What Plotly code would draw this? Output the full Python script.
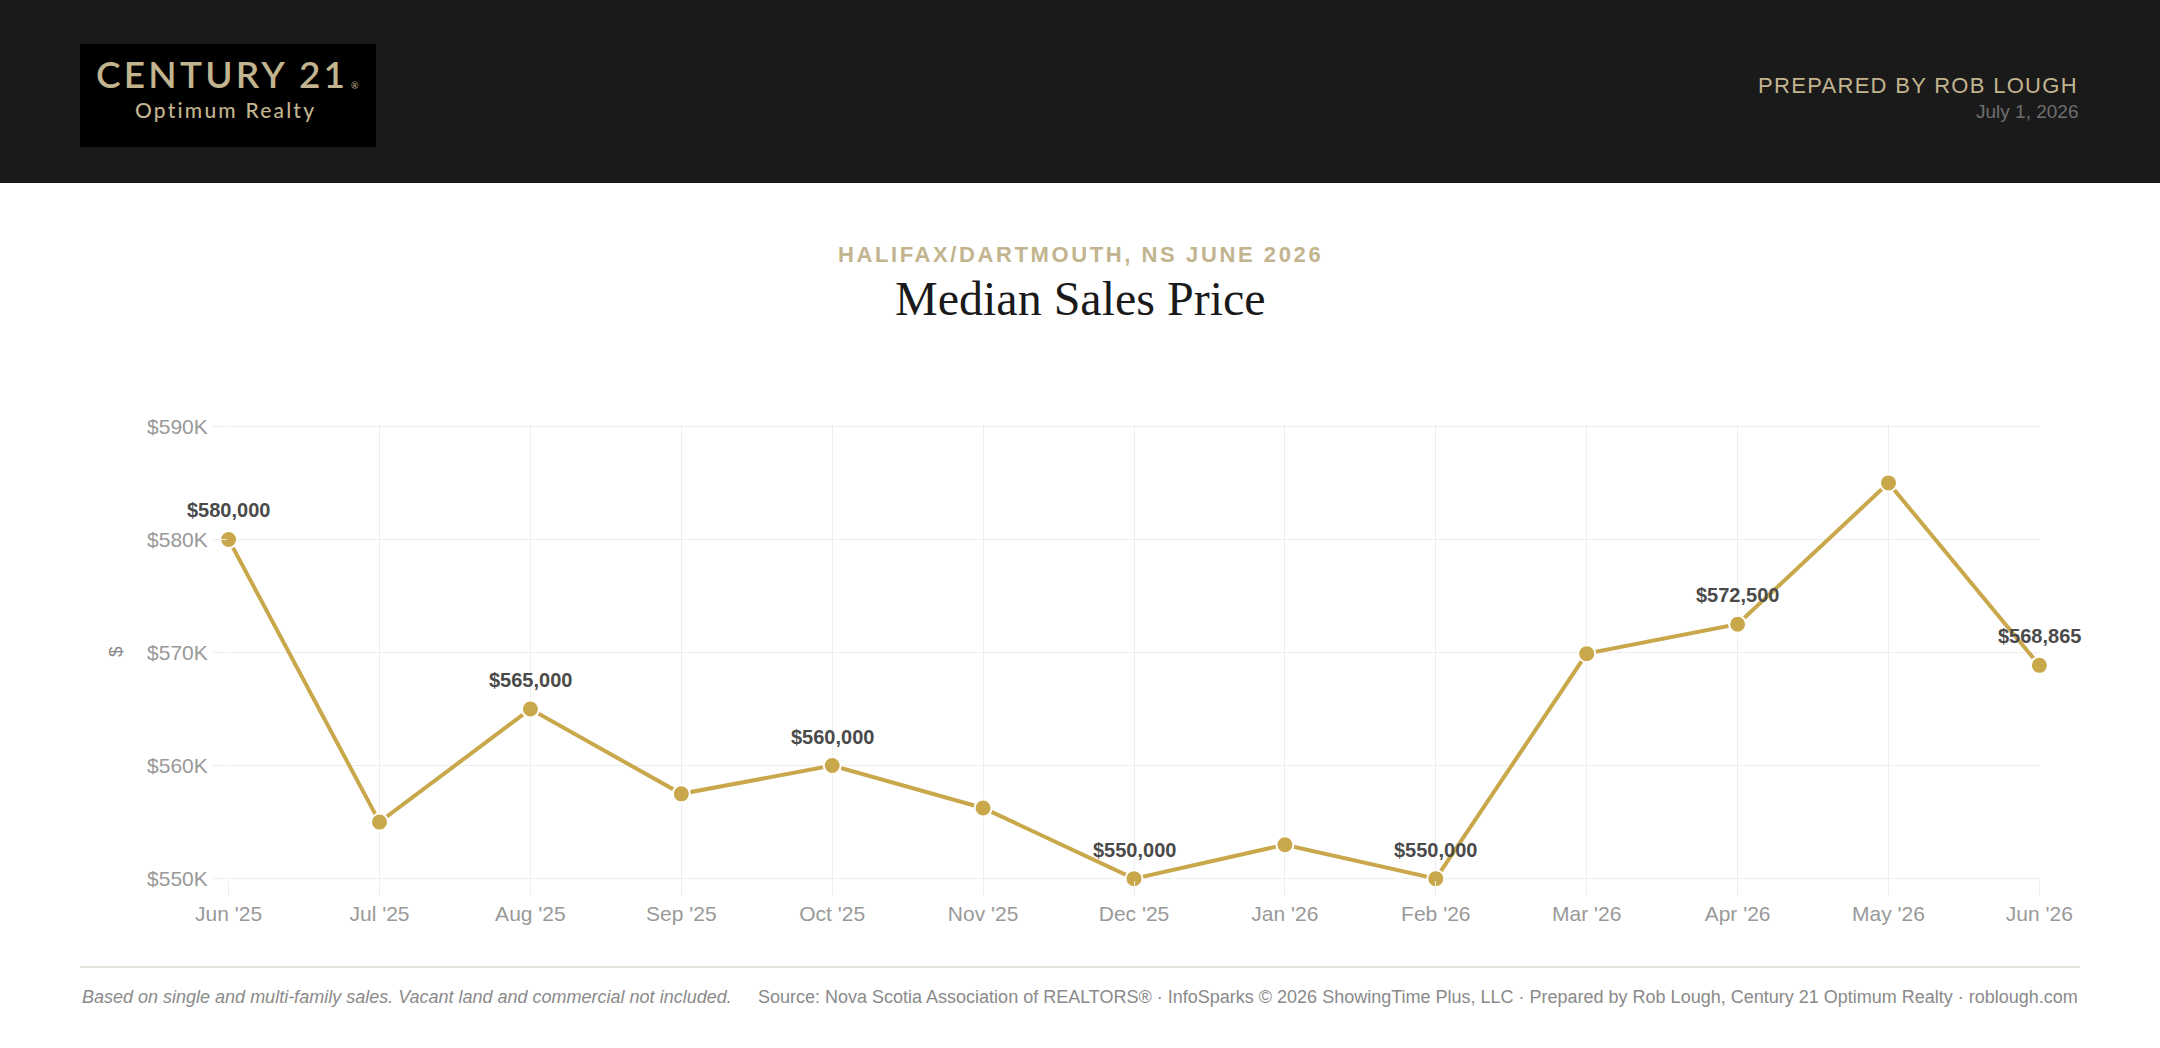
import plotly.graph_objects as go

# ---- data ----
months = ["Jun '25", "Jul '25", "Aug '25", "Sep '25", "Oct '25", "Nov '25", "Dec '25",
          "Jan '26", "Feb '26", "Mar '26", "Apr '26", "May '26", "Jun '26"]
median_price = [580000, 555000, 565000, 557500, 560000, 556250, 550000,
                553000, 550000, 569900, 572500, 585000, 568865]
labeled_months = ["Jun '25", "Aug '25", "Oct '25", "Dec '25", "Feb '26", "Apr '26", "Jun '26"]
y_ticks = [550000, 560000, 570000, 580000, 590000]
y_tick_labels = ["$550K", "$560K", "$570K", "$580K", "$590K"]

W, H = 2160, 1048
def px(x):
    return x / W
def py(y):
    return 1 - y / H
def spaced(text, sp):
    return f'<span style="letter-spacing:{sp}px">{text}</span>'

GOLD = "#C9A84C"
TAN = "#C2B48E"
GRID = "#EEEEEE"
SANS = "Liberation Sans, Arial, sans-serif"

fig = go.Figure()
fig.add_trace(go.Scatter(
    x=months, y=median_price, mode="lines+markers",
    line=dict(color=GOLD, width=4),
    marker=dict(color=GOLD, size=17, line=dict(color="white", width=2)),
    cliponaxis=False, hoverinfo="skip", showlegend=False,
))

annotations = []
for m, v in zip(months, median_price):
    if m in labeled_months:
        annotations.append(dict(
            x=m, y=v, xref="x", yref="y", text=f"<b>${v:,.0f}</b>", showarrow=False,
            yshift=29, font=dict(family=SANS, size=20, color="#4A4A4A"),
        ))

# header texts
annotations += [
    dict(x=px(222), y=py(73), xref="paper", yref="paper", text=spaced("CENTURY 21", 3.2), showarrow=False,
         font=dict(family="Lato", size=37, color=TAN, weight=600), xanchor="center", yanchor="middle"),
    dict(x=px(349), y=py(85), xref="paper", yref="paper", text="®", showarrow=False,
         font=dict(family="Lato", size=9, color=TAN), xanchor="left", yanchor="middle"),
    dict(x=px(225), y=py(110), xref="paper", yref="paper", text=spaced("Optimum Realty", 2.2), showarrow=False,
         font=dict(family="Lato", size=21, color=TAN, weight=500), xanchor="center", yanchor="middle"),
    dict(x=px(2080), y=py(85), xref="paper", yref="paper", text=spaced("PREPARED BY ROB LOUGH", 1.3),
         showarrow=False, font=dict(family=SANS, size=22, color=TAN), xanchor="right", yanchor="middle"),
    dict(x=px(2080), y=py(111), xref="paper", yref="paper", text="July 1, 2026", showarrow=False,
         font=dict(family=SANS, size=19, color="#6E6E6E"), xanchor="right", yanchor="middle"),
    # titles
    dict(x=0.5, y=py(254), xref="paper", yref="paper", text="<b>" + spaced("HALIFAX/DARTMOUTH, NS JUNE 2026", 2.6) + "</b>",
         showarrow=False, font=dict(family=SANS, size=22, color=TAN), xanchor="center", yanchor="middle"),
    dict(x=0.5, y=py(298), xref="paper", yref="paper", text="Median Sales Price",
         showarrow=False, font=dict(family="Liberation Serif, Georgia, serif", size=48, color="#1A1A1A"),
         xanchor="center", yanchor="middle"),
    # y-axis title
    dict(x=px(115), y=py(652), xref="paper", yref="paper", text="$", textangle=-90,
         showarrow=False, font=dict(family=SANS, size=19, color="#888888"),
         xanchor="center", yanchor="middle"),
    # footer
    dict(x=px(80), y=py(997), xref="paper", yref="paper",
         text="<i>Based on single and multi-family sales. Vacant land and commercial not included.</i>",
         showarrow=False, font=dict(family=SANS, size=18, color="#8A8A8A"),
         xanchor="left", yanchor="middle"),
    dict(x=px(2080), y=py(997), xref="paper", yref="paper",
         text="Source: Nova Scotia Association of REALTORS® · InfoSparks © 2026 ShowingTime Plus, LLC · "
              "Prepared by Rob Lough, Century 21 Optimum Realty · roblough.com",
         showarrow=False, font=dict(family=SANS, size=18, color="#8A8A8A"),
         xanchor="right", yanchor="middle"),
]

shapes = [
    dict(type="rect", xref="paper", yref="paper", x0=0, x1=1, y0=py(183), y1=1,
         fillcolor="#1A1A1A", line=dict(width=0), layer="below"),
    dict(type="rect", xref="paper", yref="paper", x0=px(80), x1=px(376), y0=py(147), y1=py(44),
         fillcolor="#000000", line=dict(width=0), layer="below"),
    dict(type="line", xref="paper", yref="paper", x0=px(80), x1=px(2080), y0=py(967), y1=py(967),
         line=dict(color="#E6E3DC", width=2)),
]

fig.update_layout(
    width=W, height=H,
    margin=dict(l=0, r=0, t=0, b=0),
    paper_bgcolor="white", plot_bgcolor="white",
    annotations=annotations, shapes=shapes,
    xaxis=dict(domain=[px(228), px(2040)], automargin=False, showgrid=True, gridcolor=GRID, gridwidth=1.2,
               zeroline=False, showline=False, ticks="outside", ticklen=15, tickcolor=GRID, tickwidth=1.2,
               tickfont=dict(family=SANS, size=21, color="#999999"),
               range=[-0.004, len(months) - 1 + 0.004], fixedrange=True),
    yaxis=dict(domain=[py(880), py(425)], automargin=False, showgrid=True, gridcolor=GRID, gridwidth=1.2,
               zeroline=False, showline=False, ticks="outside", ticklen=15, tickcolor=GRID, tickwidth=1.2,
               tickvals=y_ticks, ticktext=y_tick_labels, range=[549880, 590120],
               tickfont=dict(family=SANS, size=21, color="#999999"),
               fixedrange=True),
)

fig.write_html("out.html", config={"displayModeBar": False})
